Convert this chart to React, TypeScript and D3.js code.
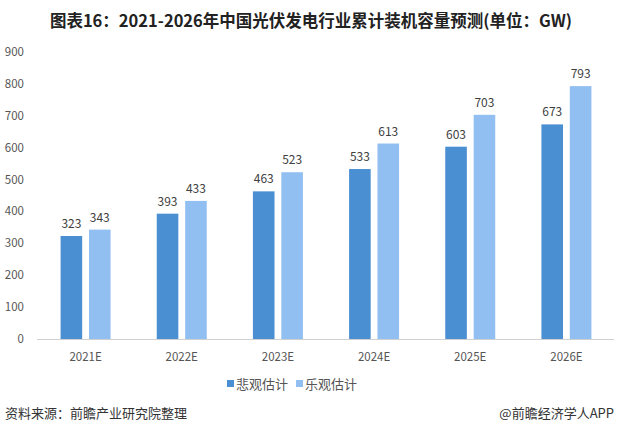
import React from 'react';
import * as d3 from 'd3';

const years = ['2021E', '2022E', '2023E', '2024E', '2025E', '2026E'];
const pessimistic = [323, 393, 463, 533, 603, 673];
const optimistic = [343, 433, 523, 613, 703, 793];
const seriesNames = ['悲观估计', '乐观估计'];
const seriesColors = ['#4b8fd3', '#92bff2'];
const yTicks = [0, 100, 200, 300, 400, 500, 600, 700, 800, 900];

const W = 618;
const H = 435;
const font = '"Noto Sans CJK SC", "Microsoft YaHei", sans-serif';

export default function App() {
  const x = d3.scaleBand<string>().domain(years).range([37.5, 614.5]);
  const y = d3.scaleLinear().domain([0, 900]).range([339, 52]);
  const sub = d3.scaleBand<number>().domain([0, 1]).range([-25, 25]).paddingInner(0.24);
  const series = [pessimistic, optimistic];

  return (
    <svg width={W} height={H} style={{ position: 'absolute', left: 0, top: 0, background: '#fff' }}>
      <text x={311} y={27} textAnchor="middle" fontFamily={font} fontSize={16.5} fontWeight="bold" fill="#222">
        图表16：2021-2026年中国光伏发电行业累计装机容量预测(单位：GW)
      </text>

      {yTicks.map(t => (
        <text key={t} x={24} y={y(t) + 4} textAnchor="end" fontFamily={font} fontSize={11.5} fill="#555">
          {t}
        </text>
      ))}

      <line x1={37} x2={614} y1={y(0) + 0.5} y2={y(0) + 0.5} stroke="#d0d0d0" />

      {years.map((yr, i) => {
        const cx = (x(yr) ?? 0) + x.bandwidth() / 2;
        return (
          <g key={yr}>
            {series.map((s, k) => {
              const bx = cx + (sub(k) ?? 0);
              return (
                <g key={k}>
                  <rect x={bx} y={y(s[i])} width={sub.bandwidth()} height={y(0) - y(s[i])} fill={seriesColors[k]} />
                  <text x={bx + sub.bandwidth() / 2} y={y(s[i]) - 8} textAnchor="middle" fontFamily={font} fontSize={12} fill="#404040">
                    {s[i]}
                  </text>
                </g>
              );
            })}
            <text x={cx} y={361} textAnchor="middle" fontFamily={font} fontSize={11.5} fill="#555">
              {yr}
            </text>
          </g>
        );
      })}

      {seriesNames.map((n, k) => (
        <g key={n} transform={`translate(${227 + k * 69}, 384)`}>
          <rect x={0} y={-4} width={7} height={7} fill={seriesColors[k]} />
          <text x={9} y={4.5} fontFamily={font} fontSize={13} fill="#555">{n}</text>
        </g>
      ))}

      <text x={5} y={418} fontFamily={font} fontSize={13} fill="#333">资料来源：前瞻产业研究院整理</text>
      <text x={614} y={418} textAnchor="end" fontFamily={font} fontSize={13} fill="#333">@前瞻经济学人APP</text>
    </svg>
  );
}
